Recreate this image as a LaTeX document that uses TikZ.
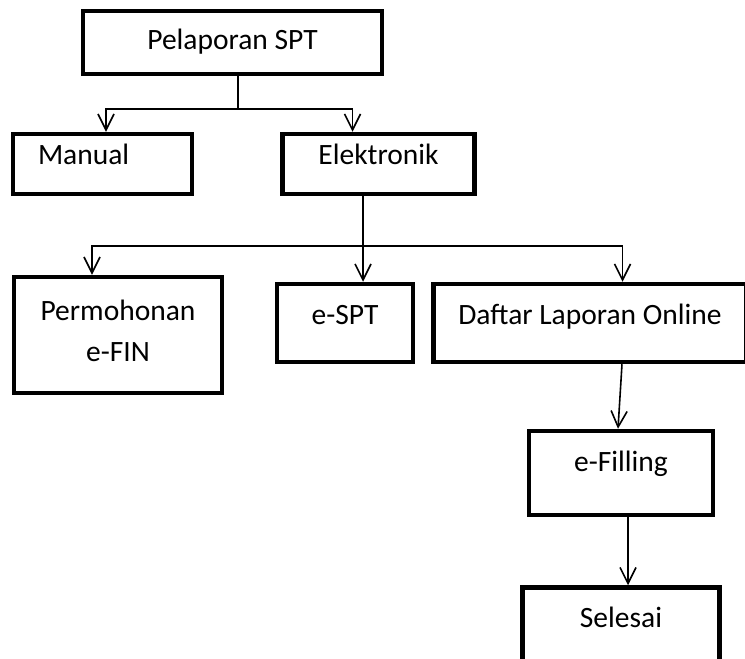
\documentclass[tikz,border=0pt]{standalone}
\usepackage{fontspec}
\setmainfont{Carlito}
\usetikzlibrary{positioning,arrows.meta}

\begin{document}
\begin{tikzpicture}[x=1pt, y=-1pt, line width=1.6pt,
    box/.style={draw, line width=4.5pt, inner sep=0pt, text height=21pt, text depth=7pt,
      font=\fontsize{29.5}{41}\selectfont},
    arr/.style={-{Straight Barb[length=16pt,width=16pt,line width=1.6pt]}}]
		\useasboundingbox (0,0) rectangle (745,659);
		% boxes
		\node[box, minimum width=299pt, minimum height=63pt] (top) at (232.5,42.5) {Pelaporan SPT};
		\node[box, minimum width=179pt, minimum height=60pt, inner xsep=25pt, text width=129pt, align=left, text depth=20pt] (manual) at (102.5,164) {Manual};
		\node[box, minimum width=192pt, minimum height=60pt, text depth=20pt] (elek) [right=86pt of manual] {Elektronik};
		\node[box, minimum width=208pt, minimum height=116pt, align=center, text height=58pt, text depth=6pt] (efin) at (118,335) {Permohonan\\e-FIN};
		\node[box, minimum width=136pt, minimum height=78pt, text depth=18pt] (espt) at (345,323) {e-SPT};
		\node[box, minimum width=313pt, minimum height=78pt, text depth=18pt] (daftar) [right=16pt of espt] {Daftar Laporan Online};
		\node[box, minimum width=184pt, minimum height=84pt, text depth=24pt] (efil) at (621,473) {e-Filling};
		\node[box, minimum width=197pt, minimum height=75pt, text depth=16pt] (selesai) [below=68pt of efil] {Selesai};
		% connectors
		\coordinate (j1) at (238,109);
		\coordinate (j2) at (363,246);
		\coordinate (j3) at ([xshift=7pt]efil.south);
		\draw (top.south -| j1) -- (j1);
		\draw[arr] (j1) -| ([xshift=3.5pt]manual.north);
		\draw[arr] (j1) -| ([xshift=-26pt]elek.north);
		\draw (elek.south -| j2) -- (j2);
		\draw[arr] (j2) -| ([xshift=-26pt]efin.north);
		\draw[arr] (j2) -- (espt.north -| j2);
		\draw[arr] (j2) -| ([xshift=32.5pt]daftar.north);
		\draw[arr] ([xshift=32pt]daftar.south) -- ([xshift=-3pt]efil.north);
		\draw[arr] (j3) -- (selesai.north -| j3);
\end{tikzpicture}
\end{document}
